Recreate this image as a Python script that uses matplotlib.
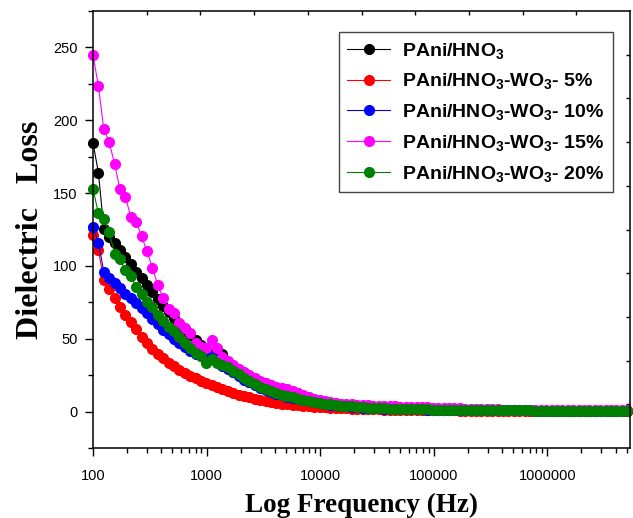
import matplotlib
matplotlib.use("Agg")
import matplotlib.pyplot as plt
from matplotlib.ticker import FixedLocator, FixedFormatter, LogLocator, NullFormatter, MultipleLocator

plt.rcParams['font.family'] = ['Liberation Sans', 'DejaVu Sans']
plt.rcParams['mathtext.fontset'] = 'custom'
plt.rcParams['mathtext.rm'] = 'Liberation Sans:bold'
plt.rcParams['mathtext.it'] = 'Liberation Sans:bold'
plt.rcParams['mathtext.bf'] = 'Liberation Sans:bold'

freq = [100, 111.6, 124.5, 138.9, 154.9, 172.8, 192.8, 215.1, 239.9, 267.7,
        298.6, 333.2, 371.7, 414.6, 462.6, 516.1, 575.7, 642.3, 716.5, 799.4,
        891.8, 992.5, 1107, 1235, 1378, 1537, 1715, 1913, 2135, 2381,
        2657, 2964, 3307, 3689, 4115, 4591, 5122, 5714, 6375, 7112,
        7934, 8851, 9874, 11016, 12290, 13711, 15296, 17064, 19037, 21238,
        23694, 26433, 29489, 32898, 36702, 40945, 45679, 50960, 56852, 63425,
        70758, 78939, 88065, 98248, 109607, 122279, 136416, 152188, 169784, 189414,
        211313, 235744, 263000, 293407, 327329, 365174, 407394, 454495, 507042, 565664,
        631063, 704024, 785420, 876226, 977530, 1090548, 1216632, 1357294, 1514218, 1689285,
        1884592, 2102482, 2345564, 2616748, 2919284, 3256798, 3633334, 4053403, 4522039, 5044855]

pani = [184.5, 164, 125.5, 120, 116, 111, 106, 101.5, 96, 92,
        87, 82, 77, 72.5, 68.5, 64, 60, 56, 52.5, 49,
        45.5, 43, 41, 42, 39.5, 31, 27.5, 25, 22.5, 20.5,
        18.6, 16.9, 15.3, 13.9, 12.6, 11.5, 10.4, 9.5, 8.7, 7.9,
        7.2, 6.5, 5.9, 5.3, 4.8, 4.4, 4.0, 3.7, 3.4, 3.1,
        2.9, 2.7, 2.5, 2.3, 2.2, 2.0, 1.9, 1.8, 1.7, 1.6,
        1.5, 1.45, 1.4, 1.35, 1.3, 1.25, 1.2, 1.15, 1.1, 1.05,
        1.0, 0.97, 0.94, 0.91, 0.88, 0.86, 0.84, 0.82, 0.8, 0.78,
        0.76, 0.74, 0.72, 0.7, 0.68, 0.66, 0.64, 0.62, 0.6, 0.58,
        0.57, 0.56, 0.55, 0.54, 0.53, 0.52, 0.51, 0.5, 0.5, 0.5]

wo3_5 = [121, 111, 90, 84, 78, 72, 66.5, 61.5, 57, 51.5,
         47, 43, 39.5, 36.5, 33.5, 31, 28.8, 26.7, 24.6, 22.8,
         21, 19.6, 18.3, 16.8, 15.4, 14, 12.8, 11.7, 10.7, 9.7,
         8.8, 8.0, 7.2, 6.6, 6.0, 5.5, 5.0, 4.6, 4.2, 3.9,
         3.6, 3.3, 3.1, 2.9, 2.7, 2.5, 2.3, 2.15, 2.0, 1.9,
         1.8, 1.7, 1.6, 1.5, 1.4, 1.35, 1.3, 1.2, 1.15, 1.1,
         1.05, 1.0, 0.95, 0.9, 0.85, 0.82, 0.78, 0.75, 0.72, 0.7,
         0.67, 0.65, 0.62, 0.6, 0.58, 0.56, 0.54, 0.52, 0.5, 0.48,
         0.46, 0.45, 0.44, 0.42, 0.41, 0.4, 0.39, 0.38, 0.37, 0.36,
         0.35, 0.34, 0.33, 0.32, 0.31, 0.3, 0.3, 0.3, 0.3, 0.3]

wo3_10 = [127, 116, 96, 92, 88.5, 85, 81, 78, 74.5, 71,
          67.5, 63.5, 60, 56, 53, 50, 47, 44, 41.5, 39.5,
          38.5, 37.5, 37.7, 34, 31.5, 29.5, 27, 24.5, 22, 20,
          18, 16.3, 14.8, 13.5, 12.3, 11.2, 10.2, 9.3, 8.5, 7.7,
          7.0, 6.3, 5.7, 5.2, 4.7, 4.3, 3.9, 3.6, 3.3, 3.0,
          2.8, 2.6, 2.4, 2.3, 2.1, 2.0, 1.9, 1.8, 1.7, 1.6,
          1.5, 1.45, 1.4, 1.35, 1.3, 1.25, 1.2, 1.15, 1.1, 1.05,
          1.02, 0.99, 0.96, 0.93, 0.9, 0.88, 0.86, 0.84, 0.82, 0.8,
          0.78, 0.76, 0.74, 0.72, 0.7, 0.68, 0.66, 0.64, 0.62, 0.6,
          0.59, 0.58, 0.57, 0.56, 0.55, 0.54, 0.53, 0.52, 0.52, 0.52]

wo3_15 = [244.6, 223.6, 193.7, 185, 170, 152.5, 147.5, 133.7, 130, 120.5,
          110, 98.8, 86.9, 77.8, 70.2, 67.9, 61, 57.6, 53.8, 47.3,
          44.6, 43.5, 49.2, 43.5, 37.5, 34.5, 32, 29.5, 27, 24.8,
          22.8, 21, 19.3, 18.2, 17.2, 16.2, 15.3, 14.3, 13, 11.6,
          9.8, 8.7, 7.7, 7.0, 6.4, 5.9, 5.5, 5.2, 4.9, 4.6,
          4.4, 4.2, 4.0, 3.85, 3.7, 3.6, 3.5, 3.4, 3.3, 3.2,
          3.1, 3.0, 2.85, 2.7, 2.6, 2.5, 2.4, 2.3, 2.2, 2.1,
          1.9, 1.8, 1.7, 1.6, 1.5, 1.45, 1.4, 1.35, 1.3, 1.25,
          1.2, 1.17, 1.14, 1.11, 1.08, 1.05, 1.02, 1.0, 0.98, 0.96,
          0.94, 0.92, 0.9, 0.88, 0.86, 0.85, 0.84, 0.83, 0.82, 0.8]

wo3_20 = [153, 136, 132, 123, 108.5, 104.5, 97, 93, 85.5, 81,
          75.5, 72, 66.3, 62.4, 58.3, 55, 51, 47, 43.5, 40.5,
          38, 33.2, 36, 33.5, 32, 30.5, 28, 25.5, 23, 21,
          19, 17.2, 15.6, 14.2, 12.9, 11.7, 10.6, 9.7, 8.9, 8.1,
          7.3, 6.6, 6.0, 5.4, 4.9, 4.5, 4.1, 3.8, 3.5, 3.2,
          3.0, 2.8, 2.6, 2.4, 2.3, 2.1, 2.0, 1.9, 1.8, 1.7,
          1.6, 1.5, 1.45, 1.4, 1.35, 1.3, 1.25, 1.2, 1.15, 1.1,
          1.05, 1.0, 0.98, 0.95, 0.92, 0.9, 0.88, 0.85, 0.83, 0.8,
          0.78, 0.76, 0.74, 0.72, 0.7, 0.68, 0.66, 0.64, 0.62, 0.6,
          0.58, 0.56, 0.55, 0.54, 0.53, 0.52, 0.51, 0.5, 0.5, 0.5]

series = [pani, wo3_5, wo3_10, wo3_15, wo3_20]
labels = [r'PAni/HNO$_3$', r'PAni/HNO$_3$-WO$_3$- 5%', r'PAni/HNO$_3$-WO$_3$- 10%',
          r'PAni/HNO$_3$-WO$_3$- 15%', r'PAni/HNO$_3$-WO$_3$- 20%']
colors = ['#000000', '#ff0000', '#0000ff', '#ff00ff', '#008000']

xticks = [100, 1000, 10000, 100000, 1000000]
xticklabels = ['100', '1000', '10000', '100000', '1000000']
yticks = [0, 50, 100, 150, 200, 250]

fig = plt.figure(figsize=(6.33, 5.18), dpi=100)
ax = fig.add_axes([93/633, 70/518, 537/633, 437/518])

for y, lab, c in zip(series, labels, colors):
    ax.plot(freq, y, '-o', color=c, lw=0.8, ms=7, mec=c, mfc=c, label=lab, clip_on=False)

ax.set_xscale('log')
ax.set_xlim(100, 5.35e6)
ax.set_ylim(-25, 275)
ax.xaxis.set_major_locator(FixedLocator(xticks))
ax.xaxis.set_major_formatter(FixedFormatter(xticklabels))
ax.xaxis.set_minor_locator(LogLocator(base=10, subs=range(2, 10), numticks=20))
ax.xaxis.set_minor_formatter(NullFormatter())
ax.yaxis.set_major_locator(FixedLocator(yticks))
ax.yaxis.set_minor_locator(MultipleLocator(25))

ax.tick_params(which='major', direction='out', length=6, width=1, labelsize=10.5,
               top=False, right=False)
ax.tick_params(axis='x', which='major', pad=9)
ax.tick_params(axis='y', which='major', pad=5)
ax.tick_params(which='minor', direction='out', length=3.5, width=1, top=False, right=False)
for s in ax.spines.values():
    s.set_linewidth(1.1)

ax.set_xlabel('Log Frequency (Hz)', family='Liberation Serif', fontweight='bold', fontsize=19.5, labelpad=7)
ax.set_ylabel('Dielectric   Loss', family='Liberation Serif', fontweight='bold', fontsize=23, labelpad=6)

leg = ax.legend(loc='upper right', bbox_to_anchor=(0.968, 0.952),
                prop={'weight': 'bold', 'size': 14, 'family': 'Liberation Sans'},
                numpoints=1, handlelength=2.2, fancybox=False, framealpha=1,
                edgecolor='#444444', labelspacing=0.55, borderpad=0.45, handletextpad=0.6,
                borderaxespad=0)
leg.get_frame().set_linewidth(1.0)

ax2 = fig.add_axes(ax.get_position(), frameon=False)
ax2.set_xlim(0, 10)
ax2.set_ylim(0, 10)
ax2.xaxis.tick_top()
ax2.yaxis.tick_right()
ax2.set_xticks(range(1, 10))
ax2.set_yticks(range(1, 10))
ax2.tick_params(direction='in', length=3, width=1, labeltop=False, labelright=False)
ax2.patch.set_visible(False)

fig.savefig('out.png', dpi=100)
